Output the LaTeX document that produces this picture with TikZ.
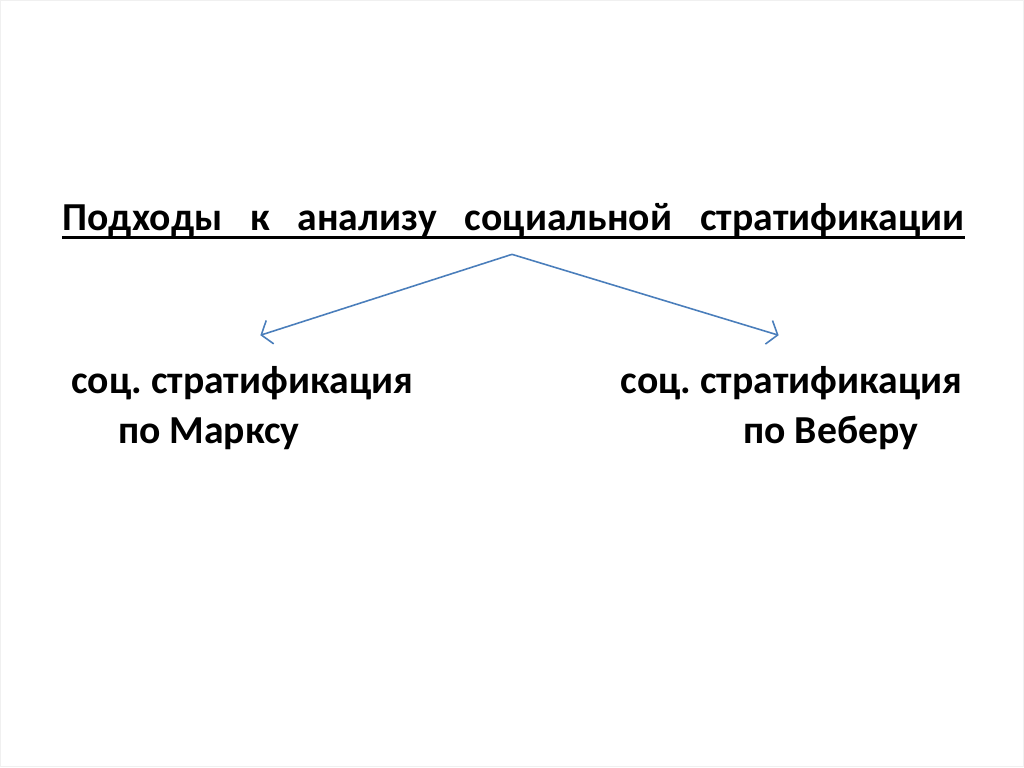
\documentclass[tikz,border=0pt]{standalone}
\usepackage{fontspec}
\setmainfont{Carlito}
\usepackage{xcolor}
\usetikzlibrary{arrows.meta}
\usetikzlibrary{calc}

\definecolor{linkblue}{RGB}{74,126,187}
\frenchspacing

\begin{document}
\begin{tikzpicture}[txt/.style={inner sep=0pt,font=\bfseries\fontsize{11.3}{14.2}\selectfont},
                    >={Straight Barb[length=2.6pt,width=7pt]}]
        \useasboundingbox[draw=black!6,fill=white] (0,0) rectangle (10.24,7.67);

        \node[txt,anchor=base] (title) at (5.135,5.37) {\makebox[9.03cm][s]{Подходы к анализу социальной стратификации}};
        \draw[line width=0.75pt] ($(title.base west)+(0,-0.07)$) -- ($(title.base east)+(0,-0.07)$);

        % base = baseline of the last line
        \node[txt,anchor=base west,align=left] (marx) at (0.70,3.24) {соц. стратификация\\\hspace*{0.47cm}по Марксу};
        \node[txt,anchor=base west,align=left] (weber) at (6.20,3.24) {соц. стратификация\\\hspace*{1.23cm}по Веберу};

        \coordinate (top) at (5.12,5.13);
        \coordinate (marx-in) at (2.60,4.32);
        \coordinate (weber-in) at (7.79,4.32);
        \draw[->,linkblue,line width=0.45pt] (top) -- (marx-in);
        \draw[->,linkblue,line width=0.45pt] (top) -- (weber-in);
      \end{tikzpicture}
\end{document}
